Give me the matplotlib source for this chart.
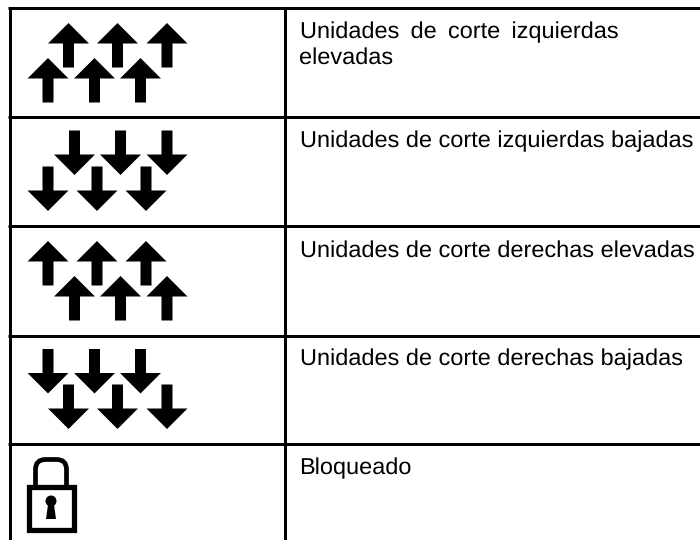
import matplotlib
matplotlib.use("Agg")
import matplotlib.pyplot as plt
from matplotlib.patches import Polygon, Rectangle, Circle, FancyBboxPatch

plt.rcParams['font.family'] = ['Liberation Sans', 'DejaVu Sans']
plt.rcParams['text.hinting'] = 'no_hinting'

# Table text
labels = [
    "Unidades \u2009de \u2009corte \u2009izquierdas\nelevadas",
    "Unidades de corte izquierdas bajadas",
    "Unidades de corte derechas elevadas",
    "Unidades de corte derechas bajadas",
    "Bloqueado",
]
label_tops = [22, 131, 240, 349, 458]

# Table lines
h_lines = [8, 117, 226, 335.5, 444]
v_lines = [10, 285]

# Arrow groups: x centres, tip y, direction (1 = up, -1 = down)
arrows = [
    ([68.5, 117.5, 167], 23, 1),
    ([48, 94.5, 140.5], 58, 1),
    ([74.5, 120.5, 167], 175, -1),
    ([48, 97, 146], 211, -1),
    ([48, 97, 146], 241, 1),
    ([74.5, 120.5, 167], 276, 1),
    ([48, 94.5, 140.5], 393.5, -1),
    ([68.5, 117.5, 167], 429, -1),
]

fig = plt.figure(figsize=(7, 5.4), dpi=100)
ax = fig.add_axes([0, 0, 1, 1])
ax.set_xlim(0, 700)
ax.set_ylim(540, 0)
ax.axis("off")

lw = 3 * 72 / 100

for y in h_lines:
    ax.plot([8, 700], [y, y], color="black", lw=lw, solid_capstyle="butt")
for x in v_lines:
    ax.plot([x, x], [8, 540], color="black", lw=lw, solid_capstyle="butt")


def draw_arrow(x, tip, d):
    head = 20.5
    tail = 44.5
    pts = [
        (x, tip),
        (x + 20.5, tip + d * head),
        (x + 5.5, tip + d * head),
        (x + 5.5, tip + d * tail),
        (x - 5.5, tip + d * tail),
        (x - 5.5, tip + d * head),
        (x - 20.5, tip + d * head),
    ]
    ax.add_patch(Polygon(pts, closed=True, fc="black", ec="none"))


for xs, tip, d in arrows:
    for x in xs:
        draw_arrow(x, tip, d)

# Padlock
ax.add_patch(FancyBboxPatch((35.5, 459.5), 31, 40, boxstyle="round,pad=0,rounding_size=10",
                            fc="none", ec="black", lw=3.4))
ax.add_patch(Rectangle((28.5, 487), 45, 42.5, fc="white", ec="black", lw=3.8))
ax.add_patch(Circle((51, 501), 5.5, fc="black", ec="none"))
ax.add_patch(Polygon([(48.5, 501), (53.5, 501), (56, 519), (46, 519)], fc="black", ec="none"))

for label, y in zip(labels, label_tops):
    ax.text(299.5, y, label, fontsize=16.9, va="top", ha="left", color="black", linespacing=1.2)

fig.savefig("out.png", dpi=100)
